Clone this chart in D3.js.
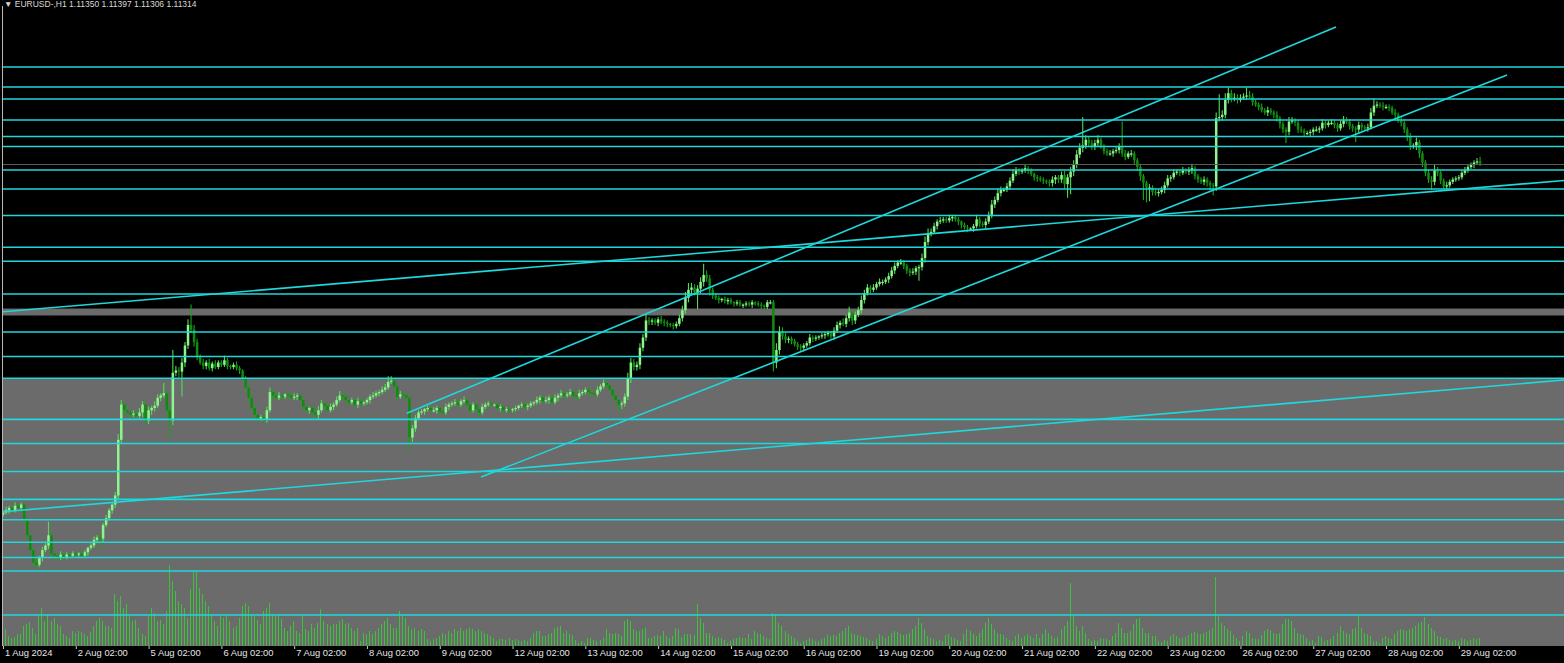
<!DOCTYPE html>
<html>
<head>
<meta charset="utf-8">
<script src="https://cdn.jsdelivr.net/npm/d3@7"></script>
<style>
  html, body { margin: 0; padding: 0; background: #000; overflow: hidden; }
  svg { display: block; }
</style>
</head>
<body>
<div id="chart"></div>
<script>
// ---- data ----
const title = "\u25BC EURUSD-,H1  1.11350 1.11397 1.11306 1.11314";

const dateLabels = ["1 Aug 2024", "2 Aug 02:00", "5 Aug 02:00", "6 Aug 02:00", "7 Aug 02:00", "8 Aug 02:00",
  "9 Aug 02:00", "12 Aug 02:00", "13 Aug 02:00", "14 Aug 02:00", "15 Aug 02:00", "16 Aug 02:00",
  "19 Aug 02:00", "20 Aug 02:00", "21 Aug 02:00", "22 Aug 02:00", "23 Aug 02:00", "26 Aug 02:00",
  "27 Aug 02:00", "28 Aug 02:00", "29 Aug 02:00"];

// H1 closes in pips (price x 10000), one row per day
const firstOpen = 10822;
const closes = [
  10824,10826,10828,10826,10830,10828,10831,10817,10804,10791,10780,10778,10784,10791,10795,10804,10788,10786,10784,10787,10785,10787,10786,10788,
  10787,10788,10786,10789,10793,10795,10800,10802,10801,10813,10819,10826,10831,10839,10888,10919,10914,10912,10910,10911,10909,10912,10919,10905,
  10914,10916,10918,10925,10927,10929,10914,10905,10947,10949,10948,10956,10971,10989,10985,10974,10961,10956,10953,10956,10951,10955,10952,10956,
  10954,10958,10953,10952,10954,10951,10949,10942,10934,10925,10916,10910,10907,10908,10906,10914,10930,10927,10925,10927,10926,10928,10927,10925,
  10926,10927,10923,10917,10914,10916,10912,10910,10914,10920,10918,10914,10917,10919,10923,10927,10926,10923,10921,10923,10919,10922,10920,10921,
  10923,10926,10927,10929,10930,10932,10934,10939,10940,10935,10926,10928,10927,10925,10890,10898,10907,10912,10913,10915,10916,10914,10914,10916,
  10913,10912,10917,10919,10920,10921,10919,10922,10923,10919,10914,10919,10915,10912,10917,10919,10920,10919,10919,10916,10917,10914,10915,10914,
  10915,10916,10918,10919,10917,10918,10920,10921,10923,10925,10922,10923,10925,10921,10925,10927,10929,10927,10928,10930,10927,10926,10929,10930,
  10932,10930,10929,10928,10932,10935,10938,10936,10932,10927,10923,10919,10920,10926,10942,10956,10952,10954,10969,10978,10993,10992,10993,10991,
  10994,10992,10991,10990,10989,10988,10990,10995,11002,11013,11020,11022,11018,11021,11027,11033,11030,11020,11015,11013,11011,11012,11010,11011,
  11009,11008,11009,11007,11007,11008,11007,11009,11008,11007,11006,11005,11009,11009,10956,10967,10983,10979,10976,10977,10975,10972,10970,10969,
  10971,10973,10978,10977,10978,10979,10980,10981,10982,10979,10984,10989,10991,10990,10995,11000,10993,10998,11002,11011,11017,11022,11020,11022,
  11025,11027,11027,11029,11032,11037,11041,11044,11044,11041,11037,11035,11036,11039,11040,11048,11062,11070,11071,11076,11080,11081,11082,11081,
  11083,11084,11082,11080,11077,11075,11074,11074,11076,11082,11078,11077,11080,11086,11095,11099,11105,11108,11108,11111,11116,11122,11125,11124,
  11125,11127,11125,11122,11119,11118,11117,11116,11115,11114,11117,11119,11117,11121,11113,11119,11124,11130,11139,11145,11147,11152,11149,11146,
  11149,11152,11146,11142,11140,11140,11142,11143,11146,11140,11137,11140,11140,11134,11128,11120,11114,11110,11110,11106,11105,11106,11108,11112,
  11118,11119,11123,11124,11123,11125,11124,11125,11127,11120,11117,11115,11117,11114,11112,11111,11171,11172,11174,11187,11193,11188,11189,11187,
  11189,11190,11191,11190,11185,11183,11181,11178,11176,11178,11176,11174,11171,11166,11161,11159,11168,11169,11167,11161,11160,11158,11158,11159,
  11161,11161,11162,11167,11165,11167,11167,11165,11162,11166,11169,11168,11164,11162,11161,11165,11163,11162,11163,11176,11182,11183,11182,11181,
  11181,11180,11176,11174,11169,11167,11161,11155,11147,11147,11150,11140,11132,11123,11117,11115,11125,11123,11116,11111,11112,11115,11117,11118,
  11119,11123,11125,11128,11130,11132,11133,11131
];

// upper / lower shadow length in pips
const wickUp = [
  2,3,2,1,3,2,2,1,2,1,2,3,2,3,2,12,2,1,2,3,1,2,1,2,
  2,1,3,2,1,2,3,2,4,2,3,2,2,3,5,4,3,2,2,3,2,4,3,2,
  3,2,4,3,2,9,3,4,20,4,3,4,3,5,18,4,3,2,3,2,3,2,3,2,
  2,4,2,1,2,3,2,1,2,2,3,2,1,2,2,3,4,3,2,3,2,1,2,2,
  3,2,1,2,2,1,2,3,4,3,2,2,3,2,3,4,2,3,1,2,2,3,2,1,
  2,2,3,2,2,3,3,5,4,2,1,3,2,2,2,3,3,2,2,1,2,2,3,2,
  2,1,3,2,2,3,2,2,3,2,1,2,2,1,3,2,2,2,1,2,2,1,2,1,
  1,2,1,2,3,2,2,1,3,2,2,3,2,2,3,2,3,2,2,3,2,2,3,2,
  2,2,1,2,3,2,3,2,1,2,1,1,2,3,5,4,3,3,4,3,6,3,2,2,
  2,3,2,2,1,2,2,3,4,5,6,4,3,3,4,10,4,3,2,2,2,1,2,2,
  2,1,2,2,1,2,2,2,1,2,2,1,2,2,2,6,5,4,3,2,2,2,2,2,
  2,2,3,2,2,1,2,2,2,2,3,3,2,4,3,5,2,3,3,4,3,3,2,3,
  2,3,2,2,3,3,3,2,3,2,2,2,3,2,2,4,5,4,3,3,2,3,2,2,
  3,2,2,2,1,2,2,1,2,4,2,2,3,3,4,3,4,3,2,3,3,4,3,2,
  2,3,2,2,1,2,2,2,1,2,3,2,2,3,4,3,4,4,4,4,25,4,3,3,
  3,4,2,2,2,3,2,3,3,22,3,2,3,2,2,3,2,2,3,2,2,2,3,3,
  3,2,3,2,2,3,2,3,4,2,2,2,3,2,2,2,5,20,4,6,5,3,4,3,
  3,3,7,4,3,2,2,3,2,3,2,2,3,2,2,2,4,3,2,2,3,2,2,2,
  2,3,2,3,2,2,3,2,2,3,4,3,2,2,2,3,2,2,3,4,6,3,2,3,
  2,2,2,3,2,3,2,2,3,2,4,2,2,2,2,3,5,3,2,2,3,2,2,2,
  2,2,3,2,2,2,3,4
];
const wickDown = [
  2,2,3,2,2,3,2,3,3,4,3,4,2,3,2,3,4,3,2,2,3,2,2,2,
  2,3,2,2,3,2,2,3,10,3,2,2,3,3,4,3,3,2,3,2,3,2,4,3,
  3,4,3,2,3,2,4,15,4,3,5,22,4,3,3,4,3,2,3,3,2,3,2,2,
  2,2,3,2,2,2,3,3,3,4,3,3,3,2,3,3,2,3,2,2,3,2,3,2,
  2,3,2,3,2,3,2,3,4,2,3,2,2,3,2,2,3,2,3,2,2,3,2,2,
  2,3,2,2,3,2,2,2,2,3,3,2,2,3,11,4,3,2,2,3,2,2,2,3,
  3,2,2,3,2,2,3,2,2,3,3,2,3,3,2,2,2,3,2,2,3,2,2,2,
  2,2,2,2,2,3,2,2,2,3,2,2,3,2,2,3,2,3,2,2,2,3,2,2,
  2,3,2,2,2,2,2,3,2,3,3,7,4,3,3,4,3,3,4,3,3,3,3,2,
  3,2,3,3,2,3,2,2,3,3,4,4,3,15,4,4,3,5,3,2,3,2,2,3,
  2,3,2,2,3,2,2,3,2,2,3,2,2,2,8,5,4,3,3,3,3,2,3,3,
  3,2,2,3,2,2,2,3,2,2,3,2,3,2,3,3,4,3,2,3,3,2,3,2,
  2,2,3,2,3,2,3,2,2,3,3,3,2,3,11,3,4,3,3,2,3,2,2,2,
  2,3,2,3,3,2,3,2,3,2,3,2,3,2,3,3,2,3,2,2,3,2,2,3,
  2,2,3,2,3,3,2,3,2,3,3,4,3,3,4,12,15,4,3,3,4,3,3,3,
  3,3,2,3,2,2,3,2,3,3,3,2,3,3,3,4,15,13,12,3,2,3,2,3,
  2,3,2,2,3,2,2,3,3,3,3,2,3,3,4,8,4,3,3,3,3,3,2,3,
  2,2,3,2,3,2,3,2,2,3,2,3,3,4,3,10,3,2,3,3,2,3,2,3,
  3,2,3,2,3,2,2,3,3,2,3,2,3,3,11,3,3,2,3,2,3,2,2,3,
  2,3,2,3,2,3,3,4,4,3,4,4,4,3,3,7,3,3,3,2,3,2,2,2,
  2,2,2,2,2,3,2,2
];

// tick volume, hundreds of ticks per bar
const volume = [
  15,17,10,8,9,12,12,20,22,24,18,12,30,38,25,32,25,28,22,20,12,10,8,15,
  13,15,14,12,10,14,20,25,28,25,20,20,18,52,45,50,38,42,30,25,26,18,12,10,
  30,38,33,25,26,22,35,81,65,55,45,42,38,28,57,75,75,58,52,45,40,32,25,20,
  30,28,30,25,18,20,28,40,43,40,32,30,26,22,35,38,43,32,30,32,27,18,15,20,
  25,15,13,30,17,15,22,18,23,37,25,22,20,22,22,25,27,22,23,18,15,18,5,13,
  12,15,12,15,18,22,25,28,22,18,18,35,32,28,20,17,18,15,17,15,7,5,7,8,
  10,13,12,15,13,17,15,18,15,17,18,17,15,17,15,13,12,10,8,5,7,7,6,8,
  6,7,6,5,6,5,8,13,15,15,10,10,12,13,18,19,20,13,15,12,11,6,3,5,
  3,8,8,6,5,6,8,17,13,12,13,12,10,25,27,25,17,15,15,17,18,8,8,10,
  11,10,15,10,8,10,18,17,9,12,12,12,11,42,28,23,13,13,10,8,9,8,6,3,
  5,7,8,9,8,8,12,7,15,13,12,10,8,7,33,32,23,20,15,12,10,8,5,3,
  5,6,8,7,5,5,7,8,11,10,11,10,13,15,18,20,13,12,11,10,9,8,6,5,
  7,12,10,8,10,13,15,14,12,11,12,13,17,20,28,23,17,10,8,7,5,6,5,11,
  12,9,8,6,5,12,17,15,12,10,13,17,23,28,22,17,13,12,11,8,6,5,10,12,
  8,10,12,10,8,12,8,12,17,13,10,8,9,17,20,25,63,30,20,15,20,13,7,5,
  6,5,8,7,7,6,10,13,23,18,13,13,15,22,27,28,18,13,13,10,10,5,4,6,
  5,10,12,10,8,8,9,11,13,14,13,12,13,14,16,18,69,30,23,20,17,15,11,8,
  5,10,15,13,8,7,7,11,15,17,16,13,12,13,22,27,27,25,18,13,12,11,8,5,
  6,3,10,9,5,6,7,10,13,20,15,13,12,17,18,30,18,13,12,10,5,5,3,8,
  10,8,7,12,15,17,16,15,17,18,20,23,24,29,22,18,15,10,9,7,8,6,5,6,
  5,8,7,5,6,8,7,8
];

// horizontal levels (price)
const levels = [1.12160, 1.11984, 1.11879, 1.11694, 1.11549, 1.11461, 1.11254, 1.11087, 1.10854,
  1.10574, 1.10451, 1.10163, 1.09828, 1.09613, 1.09421, 1.09060, 1.08847, 1.08601, 1.08356,
  1.08177, 1.07978, 1.07844, 1.07725, 1.07338];
const band = [1.10035, 1.09974];   // thin grey rectangle
const zoneTop = 1.09421;           // grey rectangle from here down
// trend lines: [bar0, price0, bar1, price1]
const trendLines = [
  [0, 1.10007, 514.7, 1.11162],
  [0, 1.08247, 514.7, 1.09406],
  [133.1, 1.09113, 439.5, 1.12512],
  [157.6, 1.08552, 495.9, 1.12090]
];

// ---- layout ----
const width = 1564, height = 663;
const plot = { left: 3, right: 1564, top: 0, bottom: 646 };
const barStep = 3.033;

const svg = d3.select("#chart").append("svg")
  .attr("width", width).attr("height", height)
  .attr("viewBox", [0, 0, width, height]);

svg.append("rect").attr("width", width).attr("height", height).attr("fill", "#000");

const x = d3.scaleLinear()
  .domain([0, (plot.right - plot.left) / barStep])
  .range([plot.left, plot.right]);
const y = d3.scaleLinear().domain([1.07048, 1.1275]).range([648, 0]);
const yVol = d3.scaleLinear().domain([0, 100]).range([plot.bottom, plot.bottom - 100]);

const bars = closes.map((c, i) => {
  const o = i ? closes[i - 1] : firstOpen;
  return {
    i, o: o / 1e4, c: c / 1e4,
    h: (Math.max(o, c) + wickUp[i]) / 1e4,
    l: (Math.min(o, c) - wickDown[i]) / 1e4,
    v: volume[i]
  };
});

svg.append("clipPath").attr("id", "clip")
  .append("rect").attr("x", plot.left).attr("y", plot.top)
  .attr("width", plot.right - plot.left).attr("height", plot.bottom - plot.top);

const g = svg.append("g").attr("clip-path", "url(#clip)");

// grey zone + band (background objects)
g.append("rect")
  .attr("x", plot.left).attr("width", plot.right - plot.left)
  .attr("y", y(zoneTop)).attr("height", plot.bottom - y(zoneTop))
  .attr("fill", "#6b6b6b");
g.append("rect")
  .attr("x", plot.left).attr("width", plot.right - plot.left)
  .attr("y", y(band[0])).attr("height", y(band[1]) - y(band[0]))
  .attr("fill", "#6b6b6b");

// volumes
g.append("g").selectAll("line").data(bars).join("line")
  .attr("x1", d => Math.round(x(d.i)) - 0.5).attr("x2", d => Math.round(x(d.i)) - 0.5)
  .attr("y1", plot.bottom).attr("y2", d => yVol(d.v))
  .attr("stroke", "#3cc23c").attr("stroke-width", 1);

// candles
const candle = g.append("g").selectAll("g").data(bars).join("g");
candle.append("line")
  .attr("x1", d => x(d.i)).attr("x2", d => x(d.i))
  .attr("y1", d => y(d.h)).attr("y2", d => y(d.l))
  .attr("stroke", d => d.c >= d.o ? "#52dc52" : "#16a816").attr("stroke-width", 1.1);
candle.append("rect")
  .attr("x", d => x(d.i) - 1.25).attr("width", 2.5)
  .attr("y", d => y(Math.max(d.o, d.c)))
  .attr("height", d => Math.max(1.2, Math.abs(y(d.o) - y(d.c))))
  .attr("fill", d => d.c >= d.o ? "#8ef58e" : "#0f8c0f");

// bid line
g.append("line")
  .attr("x1", plot.left).attr("x2", plot.right)
  .attr("y1", Math.round(y(bars[bars.length - 1].c)) + 0.5)
  .attr("y2", Math.round(y(bars[bars.length - 1].c)) + 0.5)
  .attr("stroke", "#5a5a5a");

// horizontal levels
g.append("g").selectAll("line").data(levels).join("line")
  .attr("x1", plot.left).attr("x2", plot.right)
  .attr("y1", d => y(d)).attr("y2", d => y(d))
  .attr("stroke", "#1ed8dc").attr("stroke-width", 1.6);

// trend lines
g.append("g").selectAll("line").data(trendLines).join("line")
  .attr("x1", d => x(d[0])).attr("y1", d => y(d[1]))
  .attr("x2", d => x(d[2])).attr("y2", d => y(d[3]))
  .attr("stroke", "#1ed8dc").attr("stroke-width", 1.6);

// left frame line
svg.append("line")
  .attr("x1", 2.5).attr("x2", 2.5).attr("y1", 6).attr("y2", plot.bottom)
  .attr("stroke", "#b8b8b8");

// date axis
const axis = svg.append("g")
  .attr("transform", `translate(0,${plot.bottom})`)
  .call(d3.axisBottom(x)
    .tickValues(dateLabels.map((d, i) => i * 24))
    .tickFormat((d, i) => dateLabels[i])
    .tickSize(3)
    .tickSizeOuter(0));
axis.select(".domain").remove();
axis.selectAll(".tick line").attr("stroke", "#c8c8c8");
axis.selectAll(".tick text")
  .attr("text-anchor", "start").attr("dx", "1.5").attr("y", 3).attr("dy", "0.78em")
  .attr("fill", "#e6e6e6")
  .style("font-family", "'Liberation Sans', Arial, sans-serif").style("font-size", "9.4px");

// title
svg.append("text")
  .attr("x", 4).attr("y", 7)
  .attr("fill", "#d8d8d8")
  .style("font-family", "'Liberation Sans', Arial, sans-serif").style("font-size", "8.5px")
  .text(title);
</script>
</body>
</html>
